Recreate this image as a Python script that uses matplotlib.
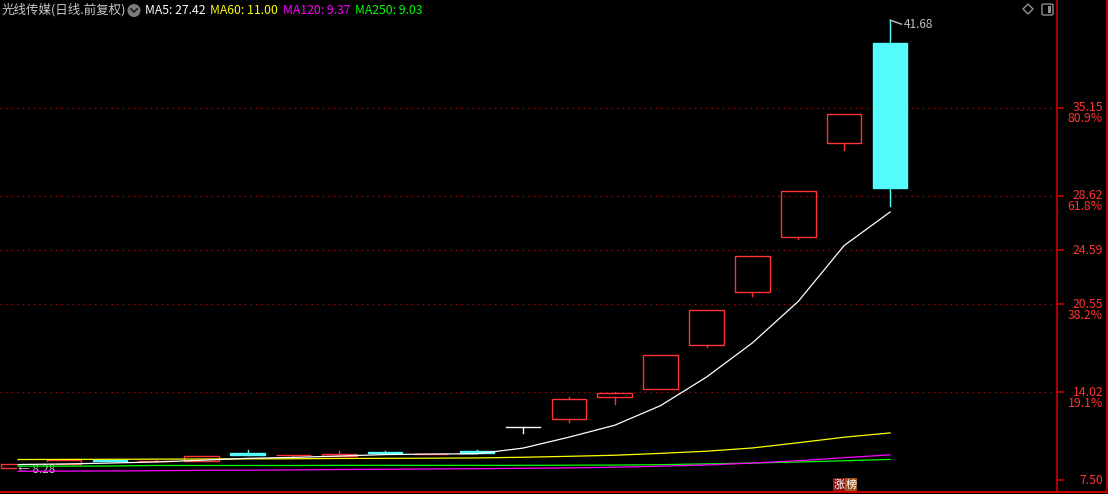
import matplotlib
matplotlib.use('Agg')
import matplotlib.pyplot as plt
from matplotlib.patches import Rectangle, Ellipse, Polygon, FancyBboxPatch
from matplotlib.lines import Line2D

plt.rcParams['font.family'] = ['Noto Sans CJK SC', 'DejaVu Sans']

# dane swiec (20 sesji)
opens = [8.37, 8.69, 8.99, 8.88, 8.89, 9.51, 9.33, 9.28, 9.58, 9.43,
         9.66, 11.42, 12.01, 13.65, 14.24, 17.51, 21.45, 25.54, 32.55, 39.98]
closes = [8.69, 9.01, 8.94, 8.92, 9.28, 9.39, 9.36, 9.43, 9.51, 9.46,
          9.51, 11.42, 13.50, 13.94, 16.77, 20.11, 24.13, 28.96, 34.70, 29.20]
highs = [8.69, 9.01, 8.99, 8.99, 9.28, 9.73, 9.36, 9.66, 9.66, 9.46,
         9.75, 11.42, 13.65, 14.04, 16.77, 20.11, 24.13, 28.96, 34.70, 41.68]
lows = [8.28, 8.69, 8.94, 8.88, 8.89, 9.39, 9.21, 9.28, 9.51, 9.43,
        9.51, 10.97, 11.83, 13.13, 14.24, 17.41, 21.20, 25.39, 32.03, 27.87]

ma5 = [8.65, 8.69, 8.76, 8.84, 8.97, 9.11, 9.18, 9.28, 9.39, 9.43,
       9.45, 9.87, 10.68, 11.57, 13.03, 15.15, 17.69, 20.78, 24.93, 27.42]
ma60 = [9.02, 9.03, 9.04, 9.05, 9.06, 9.07, 9.08, 9.10, 9.11, 9.12,
        9.14, 9.19, 9.26, 9.34, 9.48, 9.64, 9.88, 10.27, 10.68, 11.00]
ma120 = [8.15, 8.16, 8.17, 8.19, 8.22, 8.23, 8.25, 8.28, 8.30, 8.32,
         8.34, 8.37, 8.40, 8.45, 8.53, 8.62, 8.76, 8.93, 9.16, 9.37]
ma250 = [8.53, 8.53, 8.54, 8.58, 8.58, 8.58, 8.58, 8.59, 8.59, 8.59,
         8.59, 8.59, 8.60, 8.61, 8.64, 8.70, 8.76, 8.84, 8.93, 9.03]

price_ticks = [35.15, 28.62, 24.59, 20.55, 14.02, 7.50]
pct_labels = ['80.9%', '61.8%', '', '38.2%', '19.1%', '']

title = '光线传媒(日线.前复权)'
legend_texts = ['MA5: 27.42', 'MA60: 11.00', 'MA120: 9.37', 'MA250: 9.03']

# kolory
RED = '#ff3333'
CYAN = '#54fcfc'
AXRED = '#c80000'
GRAY = '#c0c0c0'
ma_colors = ['#ffffff', '#ffff00', '#ff00ff', '#00ff00']

W, H = 1108, 494
fig = plt.figure(figsize=(W / 100, H / 100), dpi=100, facecolor='black')


def fx(px):
    return px / W


def fy(py):
    return 1 - py / H


ax_w = 1057 / W
ax = fig.add_axes([0, 0, ax_w, 1])
ax.set_facecolor('black')
for s in ax.spines.values():
    s.set_visible(False)
ax.set_xticks([])
ax.set_yticks([])

# skala: 18px to srodek pierwszej swiecy, 45.9px odstep
step = 45.9
ax.set_xlim(-18 / step, (1057 - 18) / step)
k = 13.454  # px na 1 jednostke ceny
ax.set_ylim(7.5 - 14 / k, 7.5 + 480 / k)

# siatka
for t in price_ticks[:-1]:
    ax.axhline(t, color='#b00000', lw=1, ls=(0, (1, 3)), zorder=1)

# srednie
xs = list(range(len(closes)))
for vals, col in zip([ma250, ma120, ma60, ma5], ma_colors[::-1]):
    ax.plot(xs, vals, color=col, lw=0.9, zorder=4)

# swiece
bw = 0.75
lw = 1.0
for i in xs:
    o, c, h, l = opens[i], closes[i], highs[i], lows[i]
    if abs(c - o) < 1e-6:
        ax.plot([i - bw / 2, i + bw / 2], [o, o], color='white', lw=lw, zorder=3)
        ax.plot([i, i], [l, h], color='white', lw=lw, zorder=3)
    elif c > o:
        ax.add_patch(Rectangle((i - bw / 2, o), bw, c - o, fill=False,
                               edgecolor=RED, lw=lw, zorder=3))
        if h > c:
            ax.plot([i, i], [c, h], color=RED, lw=lw, zorder=3)
        if l < o:
            ax.plot([i, i], [l, o], color=RED, lw=lw, zorder=3)
    else:
        ax.plot([i, i], [l, h], color=CYAN, lw=lw, zorder=3)
        ax.add_patch(Rectangle((i - bw / 2, c), bw, o - c, facecolor=CYAN,
                               edgecolor=CYAN, lw=lw, zorder=3))

# etykiety max / min
imax = highs.index(max(highs))
ax.plot([imax, imax + 0.25], [highs[imax], highs[imax] - 0.3], color=GRAY, lw=1, zorder=5)
ax.text(imax + 0.3, highs[imax] - 0.35, '%.2f' % highs[imax], color=GRAY,
        fontsize=8.5, va='center', ha='left', zorder=5)
imin = lows.index(min(lows))
ax.text(imin, lows[imin], '\u2190 %.2f' % lows[imin], color=GRAY, fontsize=8.5,
        va='center', ha='left', zorder=3.5,
        bbox=dict(facecolor='black', edgecolor='none', pad=0.5))

# ramki osi
fig.add_artist(Line2D([fx(1057), fx(1057)], [fy(0), fy(492)], color=AXRED, lw=1.2))
fig.add_artist(Line2D([fx(1106.5), fx(1106.5)], [fy(0), fy(492)], color=AXRED, lw=1.2))
fig.add_artist(Line2D([0, fx(1107)], [fy(492), fy(492)], color=AXRED, lw=1.5))

# opisy osi po prawej
for t, p in zip(price_ticks, pct_labels):
    py = 480 - (t - 7.5) * k
    fig.add_artist(Line2D([fx(1057), fx(1063)], [fy(py), fy(py)], color=AXRED, lw=1.2))
    fig.text(fx(1103), fy(py), '%.2f' % t, color=RED, fontsize=8.8,
             ha='right', va='center')
    if p:
        fig.text(fx(1103), fy(py + 11), p, color=RED, fontsize=8.8,
                 ha='right', va='center')

# naglowek
fig.text(fx(2), fy(10), title, color='#c8c8c8', fontsize=9, ha='left', va='center')
fig.add_artist(Ellipse((fx(134), fy(10.5)), 13 / W, 13 / H, facecolor='#7c7c7c',
                       edgecolor='none', transform=fig.transFigure))
fig.add_artist(Line2D([fx(131), fx(134), fx(137)], [fy(9), fy(12), fy(9)],
                      color='#202020', lw=1.3))
for txt, col, px in zip(legend_texts, ma_colors, [145, 210, 283, 355]):
    fig.text(fx(px), fy(10.5), txt, color=col, fontsize=8.8, ha='left', va='center')

# ikonki w prawym gornym rogu
fig.add_artist(Polygon([(fx(1028), fy(4)), (fx(1033), fy(9)), (fx(1028), fy(14)),
                        (fx(1023), fy(9))], closed=True, fill=False,
                       edgecolor='#909090', lw=1, transform=fig.transFigure))
fig.add_artist(FancyBboxPatch((fx(1042), fy(15)), 11 / W, 11 / H,
                              boxstyle='round,pad=0,rounding_size=0.002',
                              fill=False, edgecolor='#909090', lw=1,
                              transform=fig.transFigure))
fig.add_artist(Rectangle((fx(1048), fy(13)), 3 / W, 7 / H, facecolor='#909090',
                         edgecolor='none', transform=fig.transFigure))

# znaczek "涨榜"
fig.add_artist(Rectangle((fx(833), fy(491)), 12 / W, 13 / H, facecolor='#8c1414',
                         edgecolor='none', transform=fig.transFigure))
fig.add_artist(Rectangle((fx(845), fy(491)), 12 / W, 13 / H, facecolor='#a0561a',
                         edgecolor='none', transform=fig.transFigure))
fig.text(fx(839), fy(484.5), '涨', color='white', fontsize=8, ha='center', va='center')
fig.text(fx(851), fy(484.5), '榜', color='white', fontsize=8, ha='center', va='center')

fig.savefig('out.png', dpi=100, facecolor='black')
